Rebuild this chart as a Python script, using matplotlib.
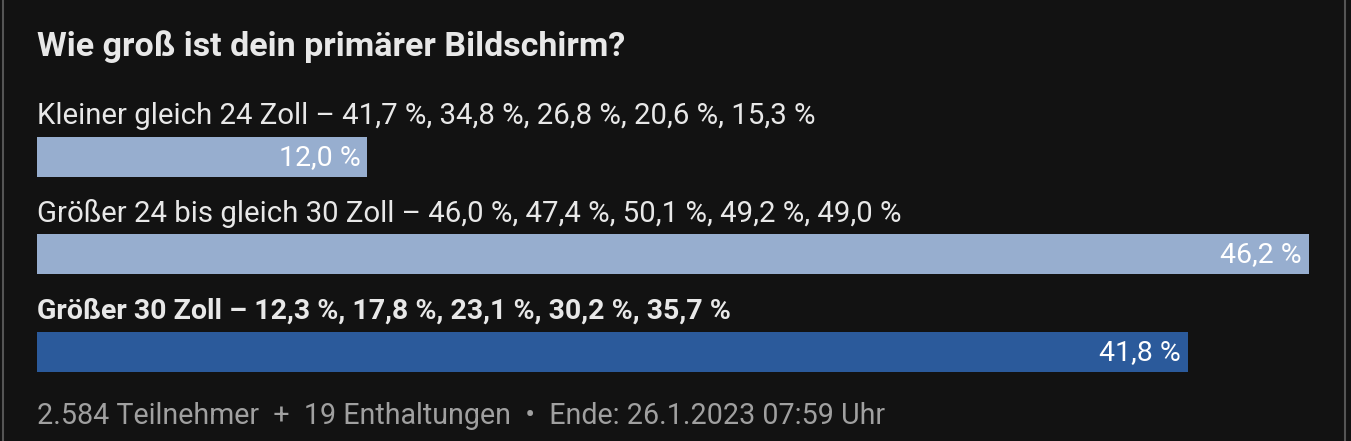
import matplotlib
matplotlib.use("Agg")
import matplotlib.pyplot as plt

# ---- data ----
title = "Wie groß ist dein primärer Bildschirm?"
categories = ["Kleiner gleich 24 Zoll", "Größer 24 bis gleich 30 Zoll", "Größer 30 Zoll"]
current = [12.0, 46.2, 41.8]
history_a = [41.7, 46.0, 12.3]
history_b = [34.8, 47.4, 17.8]
history_c = [26.8, 50.1, 23.1]
history_d = [20.6, 49.2, 30.2]
history_e = [15.3, 49.0, 35.7]
highlight = [False, False, True]
footer = "2.584 Teilnehmer  +  19 Enthaltungen  •  Ende: 26.1.2023 07:59 Uhr"

def fmt(v):
    return f"{v:.1f}".replace(".", ",") + " %"

W, H = 1351, 441
BG = "#121212"
TXT = "#e8e8e8"
LIGHT = "#97aecf"
DARK = "#2b5a9b"
FONT = ["Roboto", "DejaVu Sans"]

fig = plt.figure(figsize=(W / 100, H / 100), dpi=100, facecolor=BG)
x0, x1 = 37, 1309
ax = fig.add_axes([x0 / W, 0, (x1 - x0) / W, 1])
ax.set_facecolor(BG)
ax.set_xlim(0, max(current))
ax.set_ylim(H, 0)
ax.axis("off")

# borders
fig.add_artist(plt.Line2D([2.5 / W, 2.5 / W], [0, 1], color="#555555", lw=1.5))
fig.add_artist(plt.Line2D([1344.5 / W, 1344.5 / W], [0, 1], color="#555555", lw=1.5))

ax.text(0, 47, title, color=TXT, fontsize=24.5, fontweight="bold", va="center", ha="left", family=FONT)

bar_centers = [157, 254, 352]
label_centers = [116, 214, 311]
for i, cat in enumerate(categories):
    hist = [history_a[i], history_b[i], history_c[i], history_d[i], history_e[i]]
    label = cat + " – " + ", ".join(fmt(v) for v in hist)
    col = DARK if highlight[i] else LIGHT
    ax.barh(bar_centers[i], current[i], height=40, color=col, left=0)
    ax.text(0, label_centers[i], label, color=TXT,
            fontsize=20.5 if highlight[i] else 21.2,
            fontweight="bold" if highlight[i] else "normal",
            va="center", ha="left", family=FONT)
    ax.annotate(fmt(current[i]), xy=(current[i], bar_centers[i] + 1), xytext=(-7, 0),
                textcoords="offset pixels", color="white", fontsize=20.5,
                va="center", ha="right", family=FONT)

ax.text(0, 416, footer, color="#a0a0a0", fontsize=20.6, va="center", ha="left", family=FONT)

fig.savefig("out.png", dpi=100, facecolor=BG)
